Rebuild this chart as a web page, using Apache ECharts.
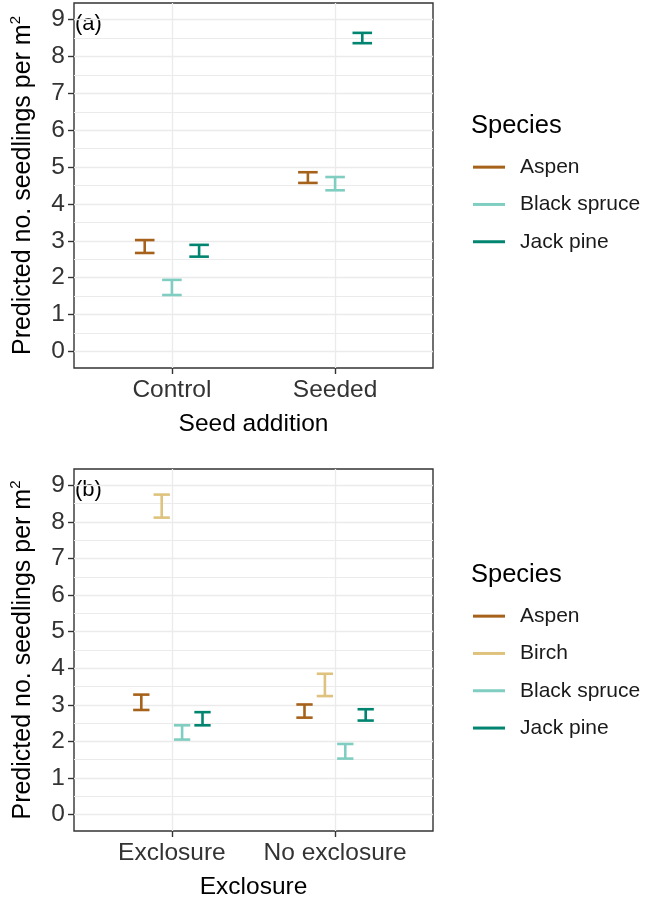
<!DOCTYPE html>
<html><head><meta charset="utf-8">
<script src="https://cdn.jsdelivr.net/npm/echarts@6/dist/echarts.min.js"></script>
<style>html,body{margin:0;padding:0;background:#fff}#c{width:645px;height:901px}</style>
</head><body><div id="c"></div>
<script>
// ---------- data ----------
const catsA = ['Control', 'Seeded'];
const catsB = ['Exclosure', 'No exclosure'];
const speciesA = ['Aspen', 'Black spruce', 'Jack pine'];
const speciesB = ['Aspen', 'Birch', 'Black spruce', 'Jack pine'];
const yTicks = [0, 1, 2, 3, 4, 5, 6, 7, 8, 9];
const yMinor = [0.5, 1.5, 2.5, 3.5, 4.5, 5.5, 6.5, 7.5, 8.5];

// panel (a): lower / upper per category
const aAspenLow  = [2.67, 4.57];
const aAspenHigh = [3.02, 4.86];
const aSpruceLow  = [1.53, 4.37];
const aSpruceHigh = [1.94, 4.73];
const aPineLow  = [2.57, 8.36];
const aPineHigh = [2.89, 8.64];

// panel (b)
const bAspenLow  = [2.86, 2.65];
const bAspenHigh = [3.28, 3.01];
const bBirchLow  = [8.12, 3.24];
const bBirchHigh = [8.75, 3.85];
const bSpruceLow  = [2.05, 1.53];
const bSpruceHigh = [2.44, 1.93];
const bPineLow  = [2.44, 2.57];
const bPineHigh = [2.80, 2.88];

// ---------- style ----------
const colors = {'Aspen': '#A6611A', 'Birch': '#DFC27D', 'Black spruce': '#80CDC1', 'Jack pine': '#018571'};
const fontFam = '"Liberation Sans", Arial, Helvetica, sans-serif';
const dodgeWidth = 0.5;

const chart = echarts.init(document.getElementById('c'), null, {renderer: 'canvas'});

function makeRender(offset, capW, color) {
  return function (params, api) {
    const x = api.value(0) + offset;
    const lo = api.coord([x, api.value(1)]);
    const hi = api.coord([x, api.value(2)]);
    const hw = api.size([capW, 0])[0] / 2;
    const style = {stroke: color, lineWidth: 2.6, fill: null};
    return {type: 'group', children: [
      {type: 'line', shape: {x1: lo[0], y1: lo[1], x2: hi[0], y2: hi[1]}, style: style},
      {type: 'line', shape: {x1: hi[0] - hw, y1: hi[1], x2: hi[0] + hw, y2: hi[1]}, style: style},
      {type: 'line', shape: {x1: lo[0] - hw, y1: lo[1], x2: lo[0] + hw, y2: lo[1]}, style: style}
    ]};
  };
}

function buildSeries(species, lows, highs, cats, gridIdx, capW) {
  const n = species.length;
  return species.map(function (sp, i) {
    const offset = (i - (n - 1) / 2) * dodgeWidth / n;
    return {
      type: 'custom', name: sp, xAxisIndex: gridIdx, yAxisIndex: gridIdx * 2,
      coordinateSystem: 'cartesian2d', clip: false,
      itemStyle: {color: colors[sp]},
      encode: {x: 0, y: [1, 2]},
      data: cats.map(function (c, j) { return [j + 1, lows[i][j], highs[i][j]]; }),
      renderItem: makeRender(offset, capW, colors[sp])
    };
  });
}

function xAxisDef(gridIdx, cats, title) {
  return {
    type: 'value', gridIndex: gridIdx, min: 0.4, max: 2.6, position: 'bottom',
    name: title, nameLocation: 'middle', nameGap: 44,
    nameTextStyle: {fontSize: 24.5, color: '#000', fontFamily: fontFam},
    axisLine: {show: false, onZero: false},
    axisTick: {show: true, length: 6, customValues: [1, 2], lineStyle: {color: '#333', width: 1.4}},
    axisLabel: {customValues: [1, 2], margin: 10, fontSize: 24.5, color: '#333', fontFamily: fontFam,
      formatter: function (v) { return cats[Math.round(v) - 1]; }},
    splitLine: {show: true, lineStyle: {color: '#ebebeb', width: 1.3}}
  };
}

function yAxesDef(gridIdx) {
  return [{
    type: 'value', gridIndex: gridIdx, min: -0.45, max: 9.45, position: 'left',
    name: 'Predicted no. seedlings per m{sup|2}', nameLocation: 'middle', nameGap: 36,
    nameTextStyle: {fontSize: 25, color: '#000', fontFamily: fontFam, lineHeight: 30,
      rich: {sup: {fontSize: 15, verticalAlign: 'top', lineHeight: 30, fontFamily: fontFam, color: '#000'}}},
    axisLine: {show: false, onZero: false},
    axisTick: {show: true, length: 6, customValues: yTicks, lineStyle: {color: '#333', width: 1.4}},
    axisLabel: {customValues: yTicks, margin: 9, fontSize: 24.5, color: '#333', fontFamily: fontFam},
    splitLine: {show: true, lineStyle: {color: '#ebebeb', width: 1.3}}
  }, {
    type: 'value', gridIndex: gridIdx, min: -0.45, max: 9.45, position: 'left',
    axisLine: {show: false, onZero: false},
    axisTick: {show: false, customValues: yMinor},
    axisLabel: {show: false, customValues: yMinor},
    splitLine: {show: true, lineStyle: {color: '#ebebeb', width: 1.1}}
  }];
}

function legendDef(species, top) {
  return {
    orient: 'vertical', left: 473, top: top, padding: 0,
    itemWidth: 32, itemHeight: 3, itemGap: 0, selectedMode: false,
    data: species.map(function (s) { return {name: s, icon: 'rect'}; }),
    textStyle: {fontSize: 21, lineHeight: 37.3, color: '#1a1a1a', fontFamily: fontFam, padding: [0, 0, 0, 10]}
  };
}

const option = {
  backgroundColor: '#fff',
  animation: false,
  title: [
    {text: 'Species', left: 471, top: 113, padding: 0, textStyle: {fontSize: 25.5, fontWeight: 'normal', color: '#000', fontFamily: fontFam}},
    {text: 'Species', left: 471, top: 562, padding: 0, textStyle: {fontSize: 25.5, fontWeight: 'normal', color: '#000', fontFamily: fontFam}}
  ],
  legend: [legendDef(speciesA, 148.5), legendDef(speciesB, 597.5)],
  grid: [
    {left: 71, top: 3, width: 362, height: 365, show: true, borderColor: '#333', borderWidth: 1.4, backgroundColor: 'transparent'},
    {left: 71, top: 469, width: 362, height: 366, show: true, borderColor: '#333', borderWidth: 1.4, backgroundColor: 'transparent'}
  ],
  xAxis: [xAxisDef(0, catsA, 'Seed addition'), xAxisDef(1, catsB, 'Exclosure')],
  yAxis: yAxesDef(0).concat(yAxesDef(1)),
  graphic: [
    {type: 'text', left: 75, top: 13, style: {text: '(a)', fontSize: 22, fill: '#000', fontFamily: fontFam}},
    {type: 'text', left: 75, top: 479, style: {text: '(b)', fontSize: 22, fill: '#000', fontFamily: fontFam}}
  ],
  series: [].concat(
    buildSeries(speciesA, [aAspenLow, aSpruceLow, aPineLow], [aAspenHigh, aSpruceHigh, aPineHigh], catsA, 0, 0.12),
    buildSeries(speciesB, [bAspenLow, bBirchLow, bSpruceLow, bPineLow], [bAspenHigh, bBirchHigh, bSpruceHigh, bPineHigh], catsB, 1, 0.1)
  )
};
chart.setOption(option);
</script>
</body></html>
